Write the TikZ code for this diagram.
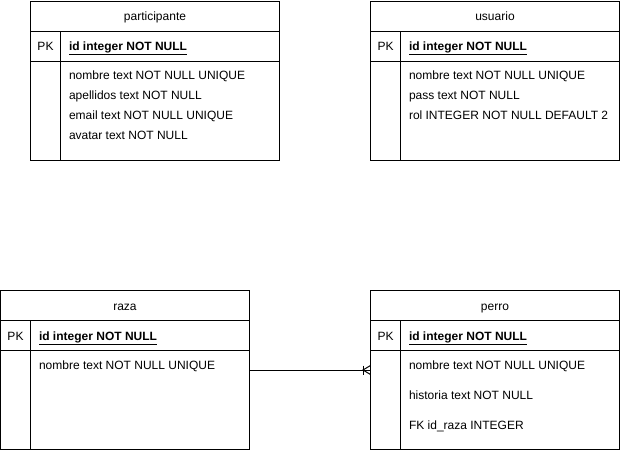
\documentclass[tikz,border=0pt]{standalone}
\usepackage{fontspec}
\setmainfont{Liberation Sans}
\newcommand{\ertbl}[4]{%
  \node[tbl] (#1) at (#2) {};
  \draw ([yshift=-30pt]#1.north west) -- ([yshift=-30pt]#1.north east);
  \draw ([yshift=-60pt]#1.north west) -- ([yshift=-60pt]#1.north east);
  \draw ([xshift=30pt,yshift=-30pt]#1.north west) -- ([xshift=30pt]#1.south west);
  \node[lbl] (#1-title) at ([yshift=-15pt]#1.north) {#3};
  \node[lbl] (#1-pk) at ([xshift=15pt,yshift=-45pt]#1.north west) {PK};
  \node[fld] (#1-id) at ([xshift=38pt,yshift=-45pt]#1.north west) {\textbf{\underline{#4}}};
}
\newcommand{\erfld}[4]{%
  \node[fld] (#1-#2) at ([xshift=38pt,yshift=-#3pt]#1.north west) {#4};
}
\begin{document}
\begin{tikzpicture}[x=1pt,y=-1pt,line width=1pt,
  tbl/.style={draw=black,line width=1pt,inner sep=0pt,outer sep=0pt,anchor=north west,
              minimum width=249pt,minimum height=159pt},
  lbl/.style={font=\fontsize{12}{14}\selectfont,inner sep=0pt,text=black,
              text height=8.6pt,text depth=2.4pt,yshift=-1.5pt},
  fld/.style={lbl,anchor=west}]
\useasboundingbox (0,0) rectangle (621,451);

\ertbl{participante}{30.5,1}{participante}{id integer NOT NULL}
\erfld{participante}{f1}{74}{nombre text NOT NULL UNIQUE}
\erfld{participante}{f2}{94}{apellidos text NOT NULL}
\erfld{participante}{f3}{114}{email text NOT NULL UNIQUE}
\erfld{participante}{f4}{134}{avatar text NOT NULL}

\ertbl{usuario}{370.5,1}{usuario}{id integer NOT NULL}
\erfld{usuario}{f1}{74}{nombre text NOT NULL UNIQUE}
\erfld{usuario}{f2}{94}{pass text NOT NULL}
\erfld{usuario}{f3}{114}{rol INTEGER NOT NULL DEFAULT 2}

\ertbl{raza}{0.5,290.5}{raza}{id integer NOT NULL}
\erfld{raza}{f1}{74.5}{nombre text NOT NULL UNIQUE}

\ertbl{perro}{370.5,290.5}{perro}{id integer NOT NULL}
\erfld{perro}{f1}{74.5}{nombre text NOT NULL UNIQUE}
\erfld{perro}{f2}{104.5}{historia text NOT NULL}
\erfld{perro}{f3}{134.5}{FK id\_raza INTEGER}

% relationship raza (one) -- perro (many)
\coordinate (cf) at ([xshift=-7.5pt]perro.west);
\draw (raza.east) -- (perro.west);
\draw ([yshift=4.5pt]cf) -- ([yshift=-4.5pt]cf);
\draw ([yshift=4.5pt]perro.west) -- (cf) -- ([yshift=-4.5pt]perro.west);
\end{tikzpicture}
\end{document}
